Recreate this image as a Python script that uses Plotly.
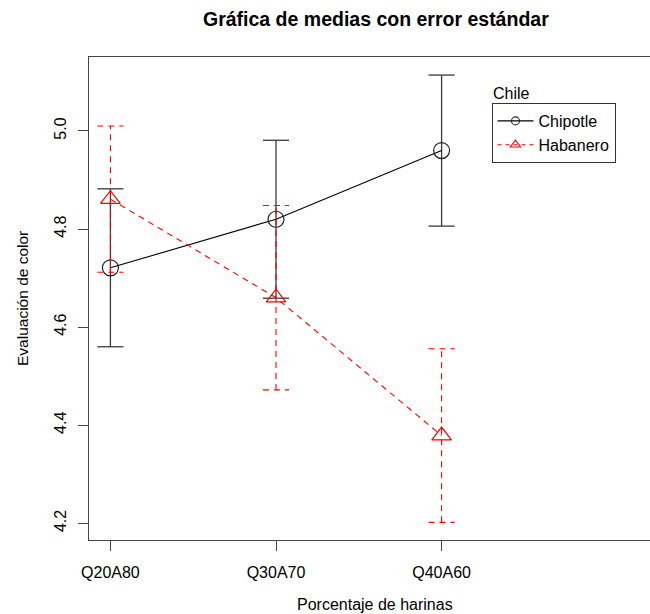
import plotly.graph_objects as go

categories = ["Q20A80", "Q30A70", "Q40A60"]
chipotle_mean = [4.721, 4.820, 4.960]
chipotle_se = [0.161, 0.161, 0.154]
habanero_mean = [4.861, 4.660, 4.379]
habanero_se = [0.149, 0.188, 0.177]
y_ticks = [4.2, 4.4, 4.6, 4.8, 5.0]

FONT = "Liberation Sans, Arial, Helvetica, sans-serif"
FS = 16
xpos = list(range(len(categories)))
CAP = 0.079  # half cap width in x data units


def err_lines(means, ses):
    xs, ys = [], []
    for x, m, s in zip(xpos, means, ses):
        lo, hi = m - s, m + s
        xs += [x, x, None, x - CAP, x + CAP, None, x - CAP, x + CAP, None]
        ys += [lo, hi, None, hi, hi, None, lo, lo, None]
    return xs, ys


fig = go.Figure()

ex, ey = err_lines(chipotle_mean, chipotle_se)
fig.add_trace(go.Scatter(x=ex, y=ey, mode="lines", showlegend=False, hoverinfo="skip",
                         line=dict(color="#3a3a3a", width=1.3)))
fig.add_trace(go.Scatter(x=xpos, y=chipotle_mean, mode="lines+markers", showlegend=False,
                         line=dict(color="black", width=1.1),
                         marker=dict(symbol="circle-open", size=16, color="#222",
                                     line=dict(width=1.2))))

ex, ey = err_lines(habanero_mean, habanero_se)
fig.add_trace(go.Scatter(x=ex, y=ey, mode="lines", showlegend=False, hoverinfo="skip",
                         line=dict(color="#ff0000", width=1.1, dash="6px,5px")))
fig.add_trace(go.Scatter(x=xpos, y=habanero_mean, mode="lines+markers", showlegend=False,
                         line=dict(color="#ff0000", width=1.1, dash="6px,5px"),
                         marker=dict(symbol="triangle-up-open", size=17, color="#ff0000",
                                     line=dict(width=1.2))))

# legend-only entries
fig.add_trace(go.Scatter(x=[None], y=[None], mode="lines+markers", name="Chipotle",
                         line=dict(color="black", width=1.1),
                         marker=dict(symbol="circle-open", size=8, color="#222",
                                     line=dict(width=1.1))))
fig.add_trace(go.Scatter(x=[None], y=[None], mode="lines+markers", name="Habanero",
                         line=dict(color="#ff0000", width=1.1, dash="4px,4px"),
                         marker=dict(symbol="triangle-up-open", size=9, color="#ff0000",
                                     line=dict(width=1.1))))

L, R, T, B = 89, 0, 57, 74
W, H = 650, 614
pw = W - L - R
ph = H - T - B


def px_x(p):
    return (p - L) / pw


def px_y(p):
    return (H - B - p) / ph


fig.update_layout(
    width=W, height=H,
    margin=dict(l=L, r=R, t=T, b=B, pad=0),
    paper_bgcolor="white", plot_bgcolor="white",
    font=dict(family=FONT, size=FS, color="black"),
    showlegend=True,
    legend=dict(x=px_x(491.5), y=px_y(103), xanchor="left", yanchor="top",
                bordercolor="#333", borderwidth=1, bgcolor="white",
                font=dict(family=FONT, size=FS, color="black"),
                tracegroupgap=0, itemsizing="trace", itemwidth=36),
    xaxis=dict(range=[-0.1293, 3.2586], tickvals=xpos, ticktext=categories,
               showgrid=False, zeroline=False, showline=True, linecolor="#444",
               linewidth=1.2, mirror=True, ticks="outside", ticklen=10,
               tickcolor="#444", tickwidth=1.2, tickfont=dict(size=FS),
               ticklabelstandoff=8),
    yaxis=dict(range=[4.166, 5.1508], tickvals=y_ticks,
               ticktext=[f"{v:.1f}" for v in y_ticks],
               showgrid=False, zeroline=False, showline=True, linecolor="#444",
               linewidth=1.2, ticks="outside", ticklen=10, tickcolor="#444",
               tickwidth=1.2, tickangle=-90, tickfont=dict(size=FS),
               ticklabelstandoff=6),
    annotations=[
        dict(text="<b>Gráfica de medias con error estándar</b>", xref="paper", yref="paper",
             x=px_x(376), y=px_y(19), xanchor="center", yanchor="middle", showarrow=False,
             font=dict(family=FONT, size=19.5, color="black")),
        dict(text="Porcentaje de harinas", xref="paper", yref="paper",
             x=px_x(375), y=px_y(604), xanchor="center", yanchor="middle", showarrow=False,
             font=dict(family=FONT, size=FS, color="black")),
        dict(text="Evaluación de color", xref="paper", yref="paper",
             x=px_x(22), y=px_y(299), xanchor="center", yanchor="middle", showarrow=False,
             textangle=-90, font=dict(family=FONT, size=15.5, color="black")),
        dict(text="Chile", xref="paper", yref="paper",
             x=px_x(491), y=px_y(94), xanchor="left", yanchor="middle", showarrow=False,
             font=dict(family=FONT, size=FS, color="black")),
    ],
)

fig.write_html("out.html")
